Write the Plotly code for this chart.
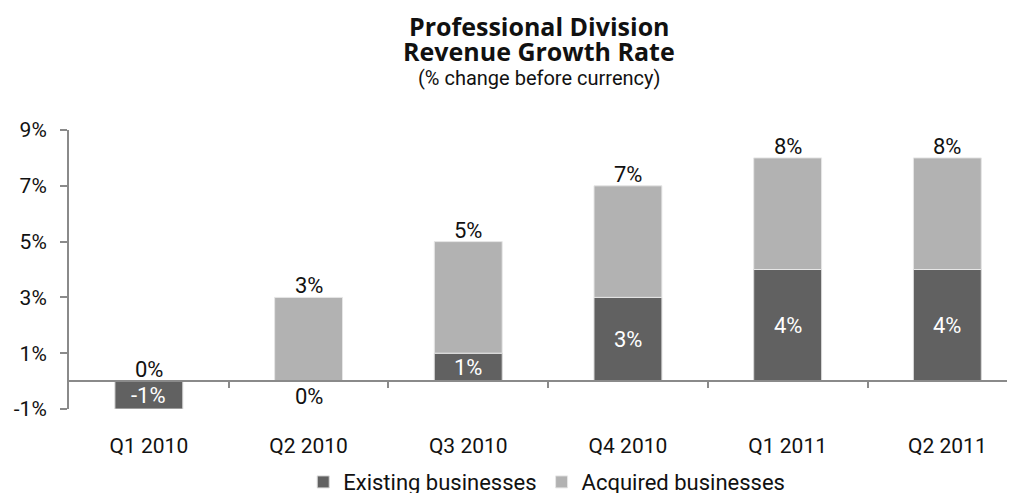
import plotly.graph_objects as go

categories = ["Q1 2010", "Q2 2010", "Q3 2010", "Q4 2010", "Q1 2011", "Q2 2011"]
existing = [-1, 0, 1, 3, 4, 4]
acquired = [0, 3, 4, 4, 4, 4]
totals = [0, 3, 5, 7, 8, 8]
y_ticks = [-1, 1, 3, 5, 7, 9]
y_tick_text = ["-1%", "1%", "3%", "5%", "7%", "9%"]

FONT = "Roboto"
TFONT = "Open Sans"
DARK = "#616161"
LIGHT = "#b2b2b2"
AXIS = "#8a8a8a"
TXT = "#111111"

fig = go.Figure()
fig.add_trace(go.Bar(
    x=categories, y=existing, name="Existing businesses",
    marker=dict(color=DARK, line=dict(color="#d8d8d8", width=1)),
    width=0.425, hoverinfo="skip",
))
fig.add_trace(go.Bar(
    x=categories, y=acquired, name="Acquired businesses",
    marker=dict(color=LIGHT, line=dict(color="#e6e6e6", width=1)),
    width=0.425, hoverinfo="skip",
))
# overlay axis for the zero line with boundary ticks
fig.add_trace(go.Scatter(x=[0, 5], y=[0, 0], xaxis="x2", mode="markers",
                         marker=dict(opacity=0), showlegend=False, hoverinfo="skip"))

ann = []
for i, (c, e, t) in enumerate(zip(categories, existing, totals)):
    if e != 0:
        ann.append(dict(x=c, y=e / 2, text=f"{e}%", showarrow=False, yanchor="middle",
                        font=dict(family=FONT, size=22, color="white"),
                        xref="x", yref="y"))
    else:
        ann.append(dict(x=c, y=0, text=f"{e}%", showarrow=False, yanchor="top", yshift=-1,
                        font=dict(family=FONT, size=22, color=TXT), xref="x", yref="y"))
    top = max(e, 0) + acquired[i]
    ann.append(dict(x=c, y=top, text=f"{t}%", showarrow=False, yanchor="bottom", yshift=-3,
                    font=dict(family=FONT, size=22, color=TXT), xref="x", yref="y"))

ann += [
    dict(x=0.497, y=1.374, xref="paper", yref="paper", text="<b>Professional Division</b>",
         showarrow=False, xanchor="center", yanchor="middle",
         font=dict(family=TFONT, size=25, color=TXT)),
    dict(x=0.497, y=1.284, xref="paper", yref="paper", text="<b>Revenue Growth Rate</b>",
         showarrow=False, xanchor="center", yanchor="middle",
         font=dict(family=TFONT, size=25, color=TXT)),
    dict(x=0.497, y=1.186, xref="paper", yref="paper", text="(% change before currency)",
         showarrow=False, xanchor="center", yanchor="middle",
         font=dict(family=FONT, size=20, color=TXT)),
]

xr = [-0.5, -0.5 + 946 / 159.7]
fig.update_layout(
    width=1007, height=485,
    margin=dict(l=61, r=0, t=122, b=84, autoexpand=False),
    barmode="relative",
    plot_bgcolor="white", paper_bgcolor="white",
    font=dict(family=FONT, size=21, color=TXT),
    annotations=ann,
    xaxis=dict(range=xr, showline=False, showgrid=False, zeroline=False,
               ticks="outside", ticklen=18, tickcolor="rgba(0,0,0,0)",
               tickfont=dict(family=FONT, size=21, color=TXT)),
    xaxis2=dict(overlaying="x", anchor="free", position=0.1, range=xr,
                showline=True, linecolor=AXIS, linewidth=2, showgrid=False, zeroline=False,
                tickvals=[0.5, 1.5, 2.5, 3.5, 4.5], ticks="outside", ticklen=6,
                tickcolor=AXIS, tickwidth=2, showticklabels=False),
    yaxis=dict(range=[-1, 9], tickvals=y_ticks, ticktext=y_tick_text, showgrid=False,
               zeroline=False, showline=True, linecolor=AXIS, linewidth=2,
               ticks="outside", ticklen=7, tickcolor=AXIS, tickwidth=2,
               ticklabelstandoff=9, tickfont=dict(family=FONT, size=21, color=TXT)),
    legend=dict(orientation="h", x=0.505, xanchor="center", y=-0.262,
                yanchor="middle", font=dict(family=FONT, size=22, color=TXT),
                traceorder="normal"),
    bargap=0.575,
)
fig.write_html("out.html")
